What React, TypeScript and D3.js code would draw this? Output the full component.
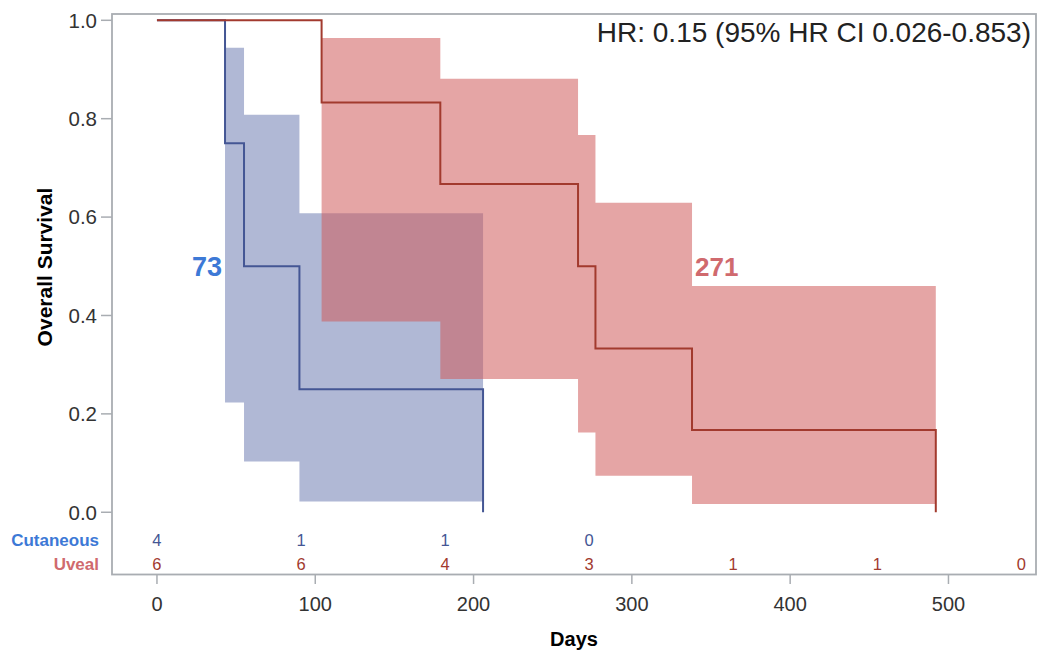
import React, { useRef, useEffect } from "react";
import * as d3 from "d3";

// Kaplan-Meier steps (days, survival)
const cutaneousTimes = [0, 43, 55, 90, 206];
const cutaneousSurvival = [1, 0.75, 0.5, 0.25, 0];
const cutaneousCiTimes = [43, 55, 90, 206];
const cutaneousUpper = [0.944, 0.808, 0.608];
const cutaneousLower = [0.223, 0.103, 0.022];

const uvealTimes = [0, 104, 179, 266, 277, 338, 492];
const uvealSurvival = [1, 0.833, 0.667, 0.5, 0.333, 0.167, 0];
const uvealCiTimes = [104, 179, 266, 277, 338, 492];
const uvealUpper = [0.964, 0.881, 0.767, 0.629, 0.46];
const uvealLower = [0.388, 0.271, 0.162, 0.074, 0.017];

// numbers at risk
const riskTimes = [0, 91, 182, 273, 364, 455, 546];
const cutaneousAtRisk = [4, 1, 1, 0];
const uvealAtRisk = [6, 6, 4, 3, 1, 1, 0];

const xTicks = [0, 100, 200, 300, 400, 500];
const yTicks = [0, 0.2, 0.4, 0.6, 0.8, 1.0];
const medianLabels = ["73", "271"];
const hrLabel = "HR: 0.15 (95% HR CI 0.026-0.853)";

const width = 1040;
const height = 657;
const font = "'Liberation Sans', Arial, Helvetica, sans-serif";

const blueLine = "#445694";
const redLine = "#A23A2E";
const blueFill = "#6F7EB3";
const redFill = "#D05B5B";
const blueLabel = "#3D79D6";
const redLabel = "#D06A6E";
const frameColor = "#A9ADB2";

const KaplanMeier = () => {
  const ref = useRef<SVGSVGElement>(null);

  useEffect(() => {
    const svg = d3.select(ref.current);
    svg.selectAll("*").remove();

    const x = d3.scaleLinear().domain([-28.4, 555.3]).range([112, 1036]);
    const y = d3.scaleLinear().domain([-0.1265, 1.0128]).range([574.5, 14]);

    function bandData(times: number[], upper: number[], lower: number[]) {
      return times.map((t, i) => {
        const k = Math.min(i, upper.length - 1);
        return { t, hi: upper[k], lo: lower[k] };
      });
    }

    const area = d3
      .area<{ t: number; hi: number; lo: number }>()
      .curve(d3.curveStepAfter)
      .x((d) => x(d.t))
      .y0((d) => y(d.lo))
      .y1((d) => y(d.hi));

    const line = d3
      .line<[number, number]>()
      .curve(d3.curveStepAfter)
      .x((d) => x(d[0]))
      .y((d) => y(d[1]));

    svg
      .append("path")
      .attr("d", area(bandData(cutaneousCiTimes, cutaneousUpper, cutaneousLower)))
      .attr("fill", blueFill)
      .attr("fill-opacity", 0.55);

    svg
      .append("path")
      .attr("d", area(bandData(uvealCiTimes, uvealUpper, uvealLower)))
      .attr("fill", redFill)
      .attr("fill-opacity", 0.55);

    svg
      .append("path")
      .attr("d", line(cutaneousTimes.map((t, i) => [t, cutaneousSurvival[i]])))
      .attr("fill", "none")
      .attr("stroke", blueLine)
      .attr("stroke-width", 2);

    svg
      .append("path")
      .attr("d", line(uvealTimes.map((t, i) => [t, uvealSurvival[i]])))
      .attr("fill", "none")
      .attr("stroke", redLine)
      .attr("stroke-width", 2);

    // frame
    svg
      .append("rect")
      .attr("x", 112)
      .attr("y", 14)
      .attr("width", 924)
      .attr("height", 560.5)
      .attr("fill", "none")
      .attr("stroke", frameColor)
      .attr("stroke-width", 1.8);

    // y axis
    const yAxis = svg.append("g").attr("font-family", font);
    yTicks.forEach((v) => {
      yAxis
        .append("line")
        .attr("x1", 101)
        .attr("x2", 112)
        .attr("y1", y(v))
        .attr("y2", y(v))
        .attr("stroke", frameColor)
        .attr("stroke-width", 1.5);
      yAxis
        .append("text")
        .attr("x", 97)
        .attr("y", y(v))
        .attr("dy", "0.36em")
        .attr("text-anchor", "end")
        .attr("font-size", 20.5)
        .attr("fill", "#333")
        .text(d3.format(".1f")(v));
    });

    // x axis
    const xAxis = svg.append("g").attr("font-family", font);
    xTicks.forEach((v) => {
      xAxis
        .append("line")
        .attr("x1", x(v))
        .attr("x2", x(v))
        .attr("y1", 574.5)
        .attr("y2", 584)
        .attr("stroke", frameColor)
        .attr("stroke-width", 1.5);
      xAxis
        .append("text")
        .attr("x", x(v))
        .attr("y", 611)
        .attr("text-anchor", "middle")
        .attr("font-size", 20)
        .attr("fill", "#333")
        .text(v);
    });

    svg
      .append("text")
      .attr("x", 574)
      .attr("y", 646)
      .attr("text-anchor", "middle")
      .attr("font-family", font)
      .attr("font-weight", "bold")
      .attr("font-size", 20)
      .attr("fill", "#000")
      .text("Days");

    svg
      .append("text")
      .attr("transform", "translate(52,267) rotate(-90)")
      .attr("text-anchor", "middle")
      .attr("font-family", font)
      .attr("font-weight", "bold")
      .attr("font-size", 21)
      .attr("fill", "#000")
      .text("Overall Survival");

    // at-risk table
    const risk = svg.append("g").attr("font-family", font);
    risk
      .append("text")
      .attr("x", 99)
      .attr("y", 545.5)
      .attr("text-anchor", "end")
      .attr("font-weight", "bold")
      .attr("font-size", 17)
      .attr("fill", blueLabel)
      .text("Cutaneous");
    risk
      .append("text")
      .attr("x", 99)
      .attr("y", 570)
      .attr("text-anchor", "end")
      .attr("font-weight", "bold")
      .attr("font-size", 17)
      .attr("fill", redLabel)
      .text("Uveal");
    cutaneousAtRisk.forEach((n, i) => {
      risk
        .append("text")
        .attr("x", x(riskTimes[i]))
        .attr("y", 545.5)
        .attr("text-anchor", "middle")
        .attr("font-size", 16.5)
        .attr("fill", blueLine)
        .text(n);
    });
    uvealAtRisk.forEach((n, i) => {
      risk
        .append("text")
        .attr("x", x(riskTimes[i]))
        .attr("y", 570)
        .attr("text-anchor", "middle")
        .attr("font-size", 16.5)
        .attr("fill", redLine)
        .text(n);
    });

    // median labels
    svg
      .append("text")
      .attr("x", x(cutaneousTimes[1]) - 3)
      .attr("y", y(0.5) + 10)
      .attr("text-anchor", "end")
      .attr("font-family", font)
      .attr("font-weight", "bold")
      .attr("font-size", 27)
      .attr("fill", blueLabel)
      .text(medianLabels[0]);
    svg
      .append("text")
      .attr("x", x(uvealTimes[5]) + 3)
      .attr("y", y(0.5) + 10)
      .attr("text-anchor", "start")
      .attr("font-family", font)
      .attr("font-weight", "bold")
      .attr("font-size", 26)
      .attr("fill", redLabel)
      .text(medianLabels[1]);

    svg
      .append("text")
      .attr("x", 1031)
      .attr("y", 42)
      .attr("text-anchor", "end")
      .attr("font-family", font)
      .attr("font-size", 28)
      .attr("fill", "#222")
      .text(hrLabel);
  }, []);

  return <svg ref={ref} width={width} height={height} />;
};

export default function App() {
  return (
    <div style={{ position: "absolute", left: 0, top: 0, background: "#fff" }}>
      <KaplanMeier />
    </div>
  );
}
